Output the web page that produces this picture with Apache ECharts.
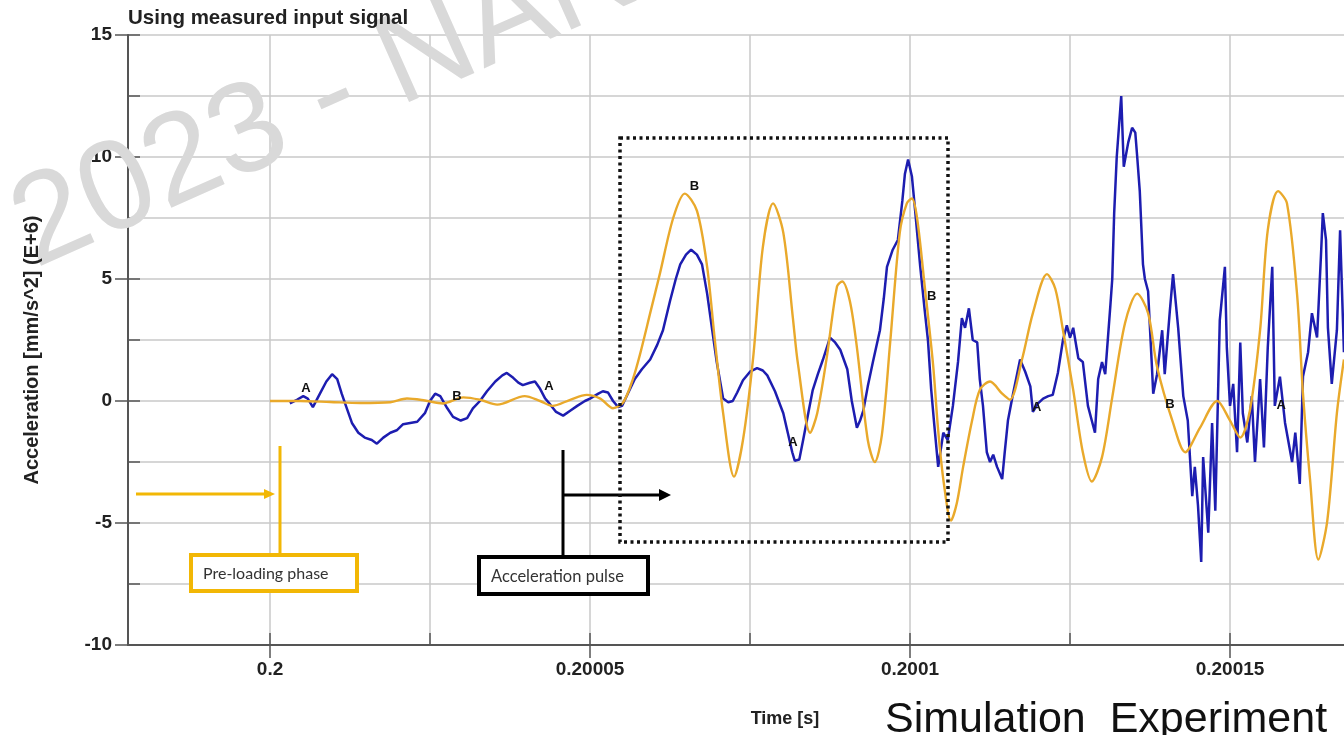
<!DOCTYPE html>
<html><head><meta charset="utf-8">
<script src="https://cdn.jsdelivr.net/npm/echarts@6/dist/echarts.min.js"></script>
<style>html,body{margin:0;padding:0;background:#fff}#c{width:1344px;height:735px}</style>
</head><body><div id="c"></div>
<script>
// time offsets are microseconds after T0 = 0.2 s; accelerations in mm/s^2 (E+6)
const T0 = 0.2;
const simTimeUs = [0,4.7,9.4,14.1,18.8,21.4,24.2,27.0,30.2,32.8,35.5,39.8,42.2,44.1,46.9,49.5,51.6,53.6,55.2,56.7,57.8,59.4,60.9,63.0,64.8,66.7,68.3,69.5,70.8,72.5,73.9,75.5,77.0,78.6,80.2,81.7,82.5,84.4,85.5,87.0,88.6,89.4,90.6,91.7,93.4,94.5,95.6,96.9,98.4,99.5,100.3,101.1,102.3,103.6,104.4,105.3,106.4,107.3,108.3,109.7,110.9,112.5,114.4,115.6,117.5,119.2,121.4,122.7,123.9,125.5,127.0,128.4,130.0,131.6,133.6,135.5,137.2,138.6,141.1,143.0,145.3,148.0,150.0,151.6,153.1,154.7,155.9,157.5,158.9,160.5,161.4,162.5,163.8,165.2,166.7,167.8];
const simAccel = [0,0,-0.04,-0.08,-0.05,0.1,0.02,-0.1,0.15,0.05,-0.15,0.2,0.0,-0.2,0.05,0.25,0.1,-0.3,-0.05,0.9,1.9,3.6,5.2,7.5,8.5,7.8,5.5,2.5,-0.5,-3.1,-1.6,1.8,6.3,8.1,6.9,3.4,1.5,-1.3,-0.5,1.8,4.7,4.9,4.1,2.2,-1.6,-2.5,-1.4,2.4,6.9,8.1,8.3,7.5,4.7,1.5,-1.2,-3.4,-4.9,-4.2,-2.7,-0.8,0.45,0.8,0.3,0.05,1.7,3.6,5.2,4.6,2.9,0.45,-2.1,-3.3,-2.3,0.15,3.2,4.4,3.6,1.4,-0.9,-2.1,-1.1,0.0,-0.8,-1.5,-0.4,2.9,7.0,8.6,8.1,4.3,0.3,-3.2,-6.5,-4.9,-0.5,1.7];
const expTimeUs = [3.1,4.2,5.2,5.9,6.7,7.8,8.8,9.7,10.5,11.2,12.0,12.8,13.8,14.8,15.9,16.7,17.7,18.8,19.8,20.8,21.9,23.0,24.2,25.0,25.8,26.6,27.7,28.6,29.8,30.8,31.7,32.8,33.9,35.2,36.3,37.0,38.0,38.8,39.5,40.6,41.4,42.2,43.0,43.8,44.7,45.8,46.9,48.0,49.2,50.0,51.3,52.0,52.8,53.6,54.4,55.0,55.9,57.0,58.1,59.4,60.5,61.4,62.5,63.4,64.1,65.0,65.8,66.7,67.5,68.3,69.1,69.8,70.8,71.6,72.3,73.0,73.9,75.0,76.1,77.0,77.7,78.9,80.2,80.9,81.6,82.0,82.7,83.3,84.1,84.8,85.6,86.4,87.5,88.3,89.1,90.2,90.9,91.7,92.2,92.7,93.4,94.2,95.3,95.9,96.4,97.3,98.1,98.8,99.2,99.7,100.3,100.8,101.6,102.3,102.8,103.3,103.8,104.4,105.2,105.9,106.7,107.5,108.1,108.6,109.2,109.8,110.5,110.9,111.4,112.0,112.5,113.0,113.6,114.4,114.8,115.3,116.1,117.2,118.0,118.8,119.2,120.0,120.8,121.6,122.3,123.1,123.9,124.5,125.0,125.5,126.3,127.0,127.8,128.4,128.9,129.4,130.0,130.5,131.3,131.6,131.9,132.3,133.0,133.4,134.1,134.7,135.2,135.5,135.9,136.4,136.7,137.2,137.8,138.0,138.6,139.4,139.8,140.6,141.1,141.9,142.7,143.4,144.1,144.5,145.0,145.5,145.8,146.4,146.6,147.2,147.7,148.4,149.2,149.5,150.0,150.5,151.1,151.6,152.0,152.7,153.4,153.9,154.7,155.3,155.9,156.6,157.0,157.8,158.6,159.7,160.2,160.9,161.4,162.2,162.8,163.6,164.2,164.5,165.0,165.3,165.9,166.7,167.2,167.8];
const expAccel = [-0.1,0.05,0.2,0.1,-0.25,0.3,0.8,1.1,0.9,0.3,-0.3,-0.9,-1.3,-1.5,-1.6,-1.75,-1.5,-1.3,-1.2,-0.95,-0.9,-0.85,-0.5,0.0,0.3,0.2,-0.3,-0.65,-0.8,-0.7,-0.3,0.0,0.4,0.8,1.05,1.15,0.95,0.75,0.65,0.75,0.8,0.5,0.1,-0.15,-0.45,-0.6,-0.4,-0.2,0.0,0.1,0.3,0.4,0.35,0.0,-0.25,-0.2,0.3,0.9,1.3,1.7,2.3,2.9,4.1,5.0,5.6,6.0,6.2,6.0,5.6,4.4,2.9,1.6,0.1,-0.05,0.0,0.35,0.85,1.2,1.35,1.25,1.05,0.4,-0.5,-1.3,-2.1,-2.45,-2.4,-1.6,-0.5,0.45,1.1,1.7,2.6,2.4,2.1,1.3,0.0,-1.1,-0.8,-0.4,0.6,1.6,2.9,4.2,5.5,6.2,6.6,8.2,9.3,9.9,9.2,7.8,5.5,3.7,2.5,0.5,-1.0,-2.7,-1.3,-1.6,-0.2,1.6,3.4,3.0,3.8,2.5,2.4,0.9,-0.2,-2.1,-2.5,-2.2,-2.7,-3.2,-2.1,-0.8,0.3,1.7,1.2,0.6,-0.45,-0.1,0.1,0.2,0.25,1.15,2.5,3.1,2.6,3.0,1.75,1.6,-0.2,-0.8,-1.3,0.9,1.6,1.1,3.9,5.0,7.7,10.0,12.5,9.6,10.6,11.2,11.0,10.0,8.6,5.6,5.0,4.5,1.4,0.3,1.1,2.9,1.1,3.7,5.2,3.0,0.2,-0.8,-3.9,-2.7,-4.3,-6.6,-2.3,-4.6,-5.4,-0.9,-4.5,3.3,5.5,2.2,-0.2,0.7,-2.1,2.4,-0.5,-1.7,0.2,-2.5,0.9,-1.9,2.2,5.5,-0.2,1.0,-0.9,-2.5,-1.3,-3.4,1.0,2.0,3.6,2.6,5.9,7.7,6.6,3.0,0.7,2.9,7.0,2.0];
const markText = ['A','B','A','B','A','B','A','B','A'];
const markTimeUs = [5.6,29.2,43.6,66.3,81.7,103.4,119.8,140.6,158.0];
const markAccel = [0.5,0.2,0.6,8.8,-1.7,4.3,-0.25,-0.15,-0.2];
const xTickValues = [0.2,0.200025,0.20005,0.200075,0.2001,0.200125,0.20015];
const xLabelValues = [0.2,0.20005,0.2001,0.20015];
const xMinUs = -22.19, xMaxUs = 167.81;

const toSec = t => T0 + t * 1e-6;
const simData = simTimeUs.map((t, i) => [toSec(t), simAccel[i]]);
const expData = expTimeUs.map((t, i) => [toSec(t), expAccel[i]]);
const markData = markTimeUs.map((t, i) => ({ name: markText[i], value: [toSec(t), markAccel[i]] }));
const xMin = toSec(xMinUs), xMax = toSec(xMaxUs);

const AX = '#555';
const GRIDC = '#c9c9c9';
const LBL = { fontFamily: 'Liberation Sans', fontWeight: 'bold', fontSize: 19, color: '#222' };
const ORANGE_ANN = '#F2B705';

const chart = echarts.init(document.getElementById('c'), null, { renderer: 'canvas' });
chart.setOption({
  animation: false,
  backgroundColor: '#fff',
  title: { text: 'Using measured input signal', left: 123, top: 3,
    textStyle: { fontFamily: 'Liberation Sans', fontWeight: 'bold', fontSize: 20.5, color: '#222' } },
  grid: { left: 128, right: 0, top: 35, bottom: 90 },
  xAxis: [
    { type: 'value', min: xMin, max: xMax, position: 'bottom',
      axisLine: { onZero: false, lineStyle: { color: AX, width: 2 } },
      axisTick: { inside: true, length: 12, customValues: xTickValues, lineStyle: { color: AX, width: 1.5 } },
      axisLabel: { show: false },
      splitLine: { show: true, lineStyle: { color: GRIDC, width: 1.5 } } },
    { type: 'value', min: xMin, max: xMax, position: 'bottom',
      axisLine: { show: false, onZero: false },
      axisTick: { inside: false, length: 13, customValues: xLabelValues, lineStyle: { color: AX, width: 1.5 } },
      axisLabel: Object.assign({ customValues: xLabelValues, margin: 15,
        formatter: v => String(+(+v).toFixed(5)) }, LBL),
      splitLine: { show: false } }
  ],
  yAxis: [
    { type: 'value', min: -10, max: 15, interval: 2.5, position: 'left',
      axisLine: { show: true, onZero: false, lineStyle: { color: AX, width: 2 } },
      axisTick: { inside: true, length: 12, lineStyle: { color: AX, width: 1.5 } },
      axisLabel: { show: false },
      splitLine: { show: true, lineStyle: { color: GRIDC, width: 1.5 } } },
    { type: 'value', min: -10, max: 15, interval: 5, position: 'left',
      axisLine: { show: false, onZero: false },
      axisTick: { inside: false, length: 13, lineStyle: { color: AX, width: 1.5 } },
      axisLabel: Object.assign({ margin: 16 }, LBL),
      splitLine: { show: false } }
  ],
  series: [
    { name: 'Experiment', type: 'line', data: expData, xAxisIndex: 0, yAxisIndex: 0,
      showSymbol: false, z: 3, lineStyle: { color: '#1d1db0', width: 2.5 } },
    { name: 'Simulation', type: 'line', data: simData, xAxisIndex: 0, yAxisIndex: 0,
      showSymbol: false, smooth: 0.3, z: 4, lineStyle: { color: '#E9A92B', width: 2.4 } },
    { name: 'marks', type: 'scatter', data: markData, symbolSize: 1, z: 6,
      itemStyle: { opacity: 0 },
      label: { show: true, position: 'inside', formatter: '{b}', fontFamily: 'Liberation Sans',
        fontWeight: 'bold', fontSize: 13, color: '#111', opacity: 1 } }
  ],
  graphic: [
    { type: 'text', x: 21, y: 236, rotation: 24 * Math.PI / 180, z: 1, silent: true,
      style: { text: '2023 - NANCY', font: '128px "Liberation Sans"', fill: '#d9d9d9', textVerticalAlign: 'middle' } },
    { type: 'text', x: 32, y: 350, rotation: Math.PI / 2, z: 10,
      style: { text: 'Acceleration [mm/s^2] (E+6)', font: 'bold 20px "Liberation Sans"', fill: '#222',
        textAlign: 'center', textVerticalAlign: 'middle' } },
    { type: 'text', x: 785, y: 719, z: 10,
      style: { text: 'Time [s]', font: 'bold 18px "Liberation Sans Narrow", "Liberation Sans"', fill: '#222',
        textAlign: 'center', textVerticalAlign: 'middle' } },
    { type: 'text', x: 885, y: 699, z: 10,
      style: { text: 'Simulation  Experiment', font: '43px "Liberation Sans"', fill: '#111',
        textAlign: 'left', textVerticalAlign: 'top' } },
    // pre-loading annotation
    { type: 'line', z: 10, shape: { x1: 136, y1: 494, x2: 266, y2: 494 }, style: { stroke: ORANGE_ANN, lineWidth: 3 } },
    { type: 'polygon', z: 10, shape: { points: [[264, 489], [275, 494], [264, 499]] }, style: { fill: ORANGE_ANN } },
    { type: 'line', z: 10, shape: { x1: 280, y1: 446, x2: 280, y2: 556 }, style: { stroke: ORANGE_ANN, lineWidth: 3 } },
    { type: 'rect', z: 10, shape: { x: 191, y: 555, width: 166, height: 36 }, style: { stroke: ORANGE_ANN, lineWidth: 4, fill: '#fff' } },
    { type: 'text', z: 11, x: 203, y: 574, style: { text: 'Pre-loading phase', font: '16px Lato', fill: '#333', textVerticalAlign: 'middle' } },
    // acceleration pulse annotation
    { type: 'line', z: 10, shape: { x1: 563, y1: 450, x2: 563, y2: 557 }, style: { stroke: '#000', lineWidth: 3 } },
    { type: 'line', z: 10, shape: { x1: 563, y1: 495, x2: 661, y2: 495 }, style: { stroke: '#000', lineWidth: 3 } },
    { type: 'polygon', z: 10, shape: { points: [[659, 489], [671, 495], [659, 501]] }, style: { fill: '#000' } },
    { type: 'rect', z: 10, shape: { x: 479, y: 557, width: 169, height: 37 }, style: { stroke: '#000', lineWidth: 4, fill: '#fff' } },
    { type: 'text', z: 11, x: 491, y: 577, style: { text: 'Acceleration pulse', font: '16.5px Lato', fill: '#333', textVerticalAlign: 'middle' } },
    // dotted region
    { type: 'rect', z: 10, shape: { x: 620, y: 138, width: 328, height: 404 },
      style: { stroke: '#111', lineWidth: 3.5, fill: null, lineDash: [3, 3.5] } }
  ]
});
</script></body></html>
